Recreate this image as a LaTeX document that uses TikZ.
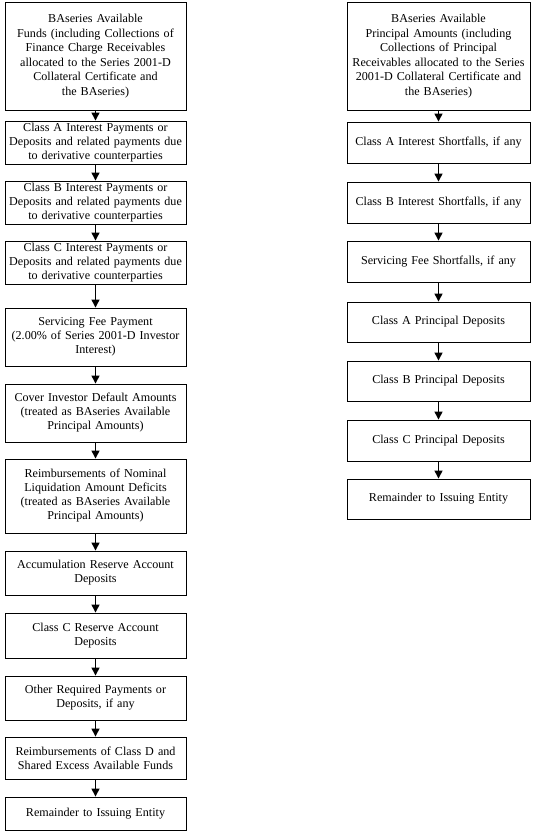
\documentclass[tikz,border=0pt]{standalone}
\usepackage{fontspec}
\setmainfont{Liberation Serif}
\usetikzlibrary{arrows.meta}
\begin{document}
\begin{tikzpicture}[x=1pt,y=-1pt,
  box/.style={draw, line width=0.9pt, align=center, inner sep=1pt,
    font=\fontsize{12.1}{14}\selectfont},
  lbox/.style={box, minimum width=181pt, text width=178pt},
  rbox/.style={box, minimum width=183pt, text width=180pt},
  flow/.style={line width=1.3pt, -{Triangle[length=8pt,width=8pt]}}]
\useasboundingbox (0,0) rectangle (532,834);
% left column
\node[lbox, minimum height=108pt, font=\fontsize{12.1}{14.6}\selectfont] (l1) at (95.5,56) {BAseries Available\\ Funds (including Collections of\\ Finance Charge Receivables\\ allocated to the Series 2001-D\\ Collateral Certificate and\\ the BAseries)};
\node[lbox, minimum height=43pt] (l2) at (95.5,142.5) {Class A Interest Payments or\\ Deposits and related payments due\\ to derivative counterparties};
\node[lbox, minimum height=43pt] (l3) at (95.5,202.5) {Class B Interest Payments or\\ Deposits and related payments due\\ to derivative counterparties};
\node[lbox, minimum height=43pt] (l4) at (95.5,262.5) {Class C Interest Payments or\\ Deposits and related payments due\\ to derivative counterparties};
\node[lbox, minimum height=58pt] (l5) at (95.5,337) {Servicing Fee Payment\\ (2.00\% of Series 2001-D Investor\\ Interest)};
\node[lbox, minimum height=58pt] (l6) at (95.5,413) {Cover Investor Default Amounts\\ (treated as BAseries Available\\ Principal Amounts)};
\node[lbox, minimum height=74pt] (l7) at (95.5,496) {Reimbursements of Nominal\\ Liquidation Amount Deficits\\ (treated as BAseries Available\\ Principal Amounts)};
\node[lbox, minimum height=44pt] (l8) at (95.5,573) {Accumulation Reserve Account\\ Deposits};
\node[lbox, minimum height=45pt] (l9) at (95.5,635.5) {Class C Reserve Account\\ Deposits};
\node[lbox, minimum height=44pt] (l10) at (95.5,698) {Other Required Payments or\\ Deposits, if any};
\node[lbox, minimum height=42pt] (l11) at (95.5,758) {Reimbursements of Class D and\\ Shared Excess Available Funds};
\node[lbox, minimum height=33pt] (l12) at (95.5,813.5) {Remainder to Issuing Entity};
% right column
\node[rbox, minimum height=108pt, font=\fontsize{12.1}{14.6}\selectfont] (r1) at (438.5,56) {BAseries Available\\ Principal Amounts (including\\ Collections of Principal\\ Receivables allocated to the Series\\ 2001-D Collateral Certificate and\\ the BAseries)};
\node[rbox, minimum height=41pt] (r2) at (438.5,142.5) {Class A Interest Shortfalls, if any};
\node[rbox, minimum height=41pt] (r3) at (438.5,202.5) {Class B Interest Shortfalls, if any};
\node[rbox, minimum height=41pt] (r4) at (438.5,261.5) {Servicing Fee Shortfalls, if any};
\node[rbox, minimum height=40pt] (r5) at (438.5,322) {Class A Principal Deposits};
\node[rbox, minimum height=40pt] (r6) at (438.5,381) {Class B Principal Deposits};
\node[rbox, minimum height=41pt] (r7) at (438.5,440.5) {Class C Principal Deposits};
\node[rbox, minimum height=40pt] (r8) at (438.5,499) {Remainder to Issuing Entity};
% arrows
\foreach \a/\b in {l1/l2,l2/l3,l3/l4,l4/l5,l5/l6,l6/l7,l7/l8,l8/l9,l9/l10,l10/l11,l11/l12,
  r1/r2,r2/r3,r3/r4,r4/r5,r5/r6,r6/r7,r7/r8}
  \draw[flow] (\a.south) -- (\b.north);
\end{tikzpicture}
\end{document}
